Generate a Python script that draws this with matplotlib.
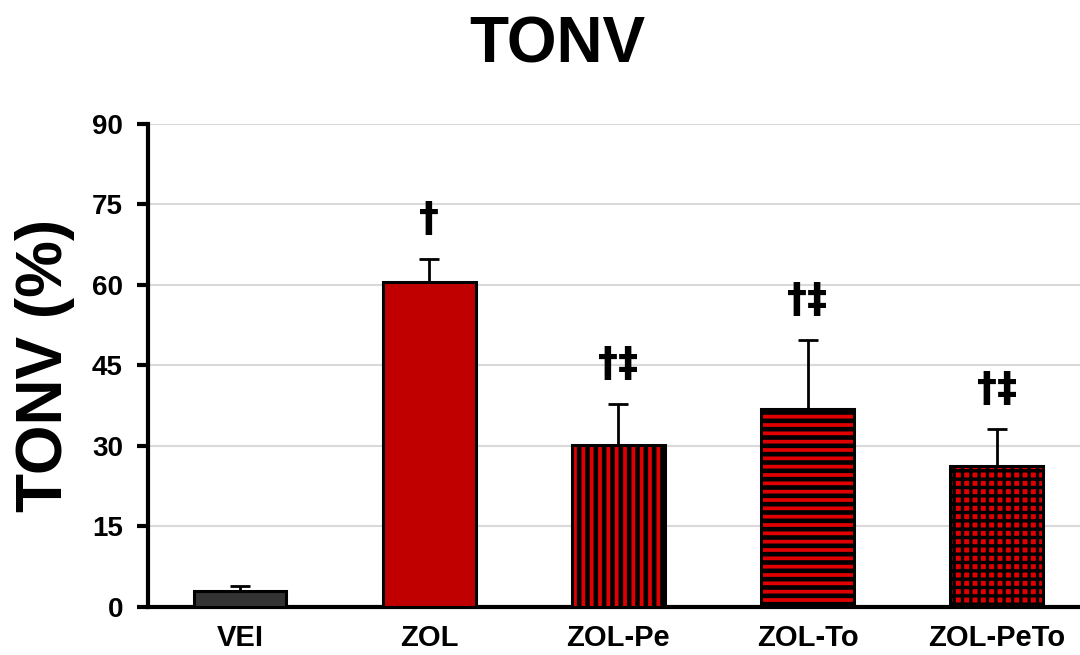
import matplotlib
matplotlib.use("Agg")
import matplotlib.pyplot as plt

groups = ["VEI", "ZOL", "ZOL-Pe", "ZOL-To", "ZOL-PeTo"]
means = [3.0, 60.6, 30.2, 36.9, 26.3]
errs = [1.0, 4.2, 7.6, 12.8, 6.9]
marks = ["", "\u2020", "\u2020\u2021", "\u2020\u2021", "\u2020\u2021"]
yticks = [0, 15, 30, 45, 60, 75, 90]

fills = ["#333333", "#c00000", "#e00000", "#e00000", "#e00000"]
hatches = [None, None, "||", "--", "++"]
hatch_widths = [1.0, 1.0, 3.3, 3.3, 2.4]

plt.rcParams["font.family"] = ["Liberation Sans", "DejaVu Sans"]
plt.rcParams["font.weight"] = "bold"

fig = plt.figure(figsize=(10.8, 6.55), dpi=100)
ax = fig.add_axes([0.137, 0.0733, 0.863, 0.7374])

x = list(range(len(groups)))

for i in x:
	with plt.rc_context({"hatch.linewidth": hatch_widths[i]}):
		ax.bar(i, means[i], width=0.49, color=fills[i], edgecolor="black",
			linewidth=2.2, hatch=hatches[i], zorder=3)

ax.errorbar(x, means, yerr=[[0] * len(errs), errs], fmt="none", ecolor="black",
	elinewidth=2, capsize=7, capthick=2, zorder=2)

for i in x:
	if marks[i]:
		ax.text(i, means[i] + errs[i] + 3.5, marks[i], ha="center", va="bottom",
			fontsize=29, fontweight="bold", family=["DejaVu Sans"])

ax.set_xlim(-0.487, 4.44)
ax.set_ylim(0, 90)
ax.set_yticks(yticks)
ax.set_xticks(x)
ax.set_xticklabels(groups, fontsize=21, fontweight="bold")
ax.tick_params(axis="y", labelsize=20, length=8, width=3, direction="out", pad=10)
ax.tick_params(axis="x", length=0, pad=12)

ax.yaxis.grid(True, color="#d9d9d9", linewidth=1.5, zorder=0)
ax.set_axisbelow(True)

for side in ("top", "right"):
	ax.spines[side].set_visible(False)
ax.spines["left"].set_linewidth(3)
ax.spines["bottom"].set_linewidth(3)

ax.set_ylabel("TONV (%)", fontsize=46, fontweight="bold", labelpad=12)
fig.text(0.516, 0.93, "TONV", ha="center", va="center", fontsize=46, fontweight="bold")

fig.savefig("out.png", dpi=100)
